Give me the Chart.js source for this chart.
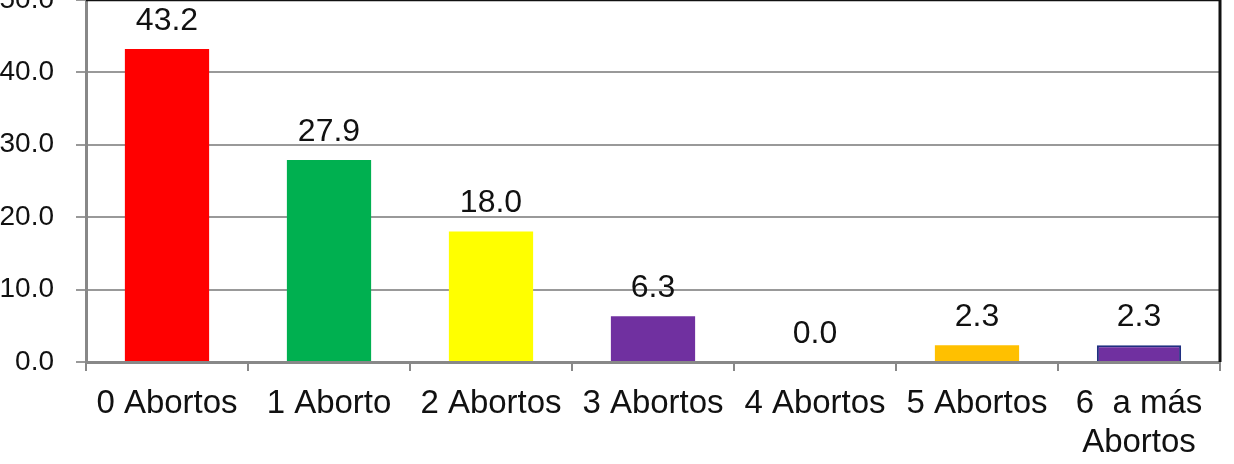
<!DOCTYPE html>
<html>
<head>
<meta charset="utf-8">
<script src="https://cdn.jsdelivr.net/npm/chart.js@4"></script>
<style>
  html, body { margin:0; padding:0; width:1234px; height:464px; overflow:hidden; background:#fff; }
  #wrap { position:absolute; left:0; top:-39px; width:1234px; height:503px; }
</style>
</head>
<body>
<div id="wrap"><canvas id="c" width="1234" height="503"></canvas></div>
<script>
const categories = ['0 Abortos', '1 Aborto', '2 Abortos', '3 Abortos', '4 Abortos', '5 Abortos', ['6  a más', 'Abortos']];
const values = [43.2, 27.9, 18.0, 6.3, 0.0, 2.3, 2.3];
const barColors = ['#FF0000', '#00B050', '#FFFF00', '#7030A0', '#FFFFFF', '#FFC000', '#7030A0'];
const barBorders = ['#FF0000', '#00B050', '#FFFF00', '#7030A0', '#FFFFFF', '#FFC000', '#1F2F80'];
const yTicks = [0, 10, 20, 30, 40, 50];

const FONT = '"Liberation Sans", Arial, sans-serif';

const labelPlugin = {
  id: 'valueLabels',
  afterDatasetsDraw(chart) {
    const ctx = chart.ctx;
    const meta = chart.getDatasetMeta(0);
    ctx.save();
    ctx.font = '32px ' + FONT;
    ctx.fillStyle = '#111';
    ctx.textAlign = 'center';
    ctx.textBaseline = 'middle';
    meta.data.forEach((bar, i) => {
      ctx.fillText(values[i].toFixed(1), bar.x, bar.y - 28);
    });
    ctx.restore();
  },
  afterDraw(chart) {
    const ctx = chart.ctx, a = chart.chartArea;
    ctx.save();
    ctx.strokeStyle = '#111';
    ctx.lineWidth = 3;
    ctx.beginPath();
    ctx.moveTo(a.left, a.top);
    ctx.lineTo(a.right, a.top);
    ctx.lineTo(a.right, a.bottom);
    ctx.stroke();
    ctx.restore();
  }
};

new Chart(document.getElementById('c'), {
  type: 'bar',
  data: {
    labels: categories,
    datasets: [{
      data: values,
      backgroundColor: barColors,
      borderColor: barBorders,
      borderWidth: values.map((v, i) => i === 6 ? 2 : 0),
      barPercentage: 0.52,
      categoryPercentage: 1.0
    }]
  },
  options: {
    responsive: false,
    animation: false,
    devicePixelRatio: 1,
    layout: { padding: { left: 0, right: 14, top: 18.5, bottom: 0 } },
    plugins: { legend: { display: false }, tooltip: { enabled: false } },
    scales: {
      x: {
        grid: { display: true, drawOnChartArea: false, drawTicks: true, tickLength: 9, color: '#888', lineWidth: 2, offset: true },
        border: { display: true, color: '#888', width: 3 },
        ticks: { color: '#111', font: { family: FONT, size: 33 }, padding: 13, maxRotation: 0, autoSkip: false },
        afterFit(s) { s.height = 102; }
      },
      y: {
        min: 0, max: 50,
        afterBuildTicks(s) { s.ticks = yTicks.map(v => ({ value: v })); },
        grid: { color: '#999', lineWidth: 2, drawTicks: true, tickLength: 10 },
        border: { display: true, color: '#888', width: 3 },
        ticks: { color: '#111', font: { family: FONT, size: 28 }, padding: 22, callback: v => Number(v).toFixed(1) },
        afterFit(s) { s.width = 86; }
      }
    }
  },
  plugins: [labelPlugin]
});
</script>
</body>
</html>
